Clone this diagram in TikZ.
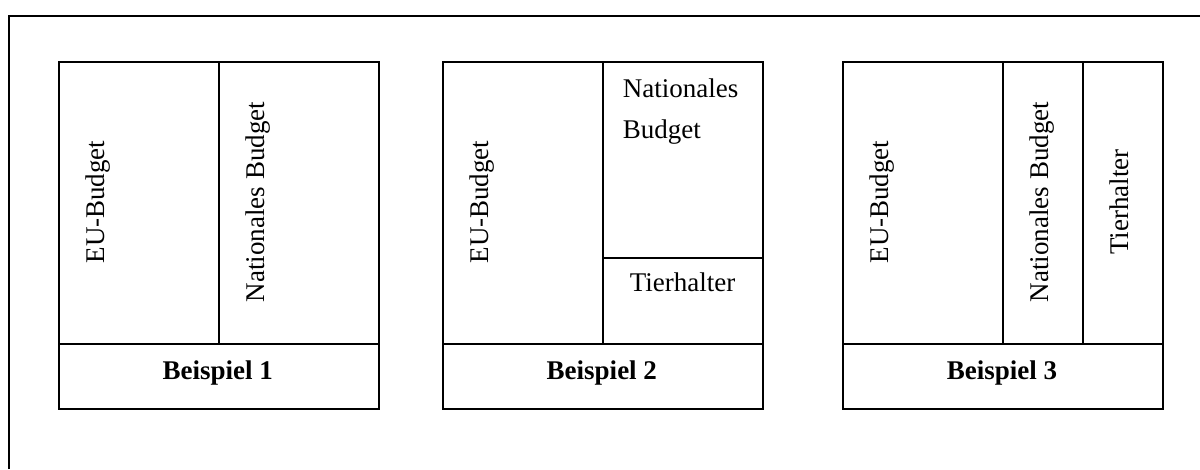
\documentclass[tikz,border=0pt]{standalone}
\usepackage{fontspec}
\setmainfont{Liberation Serif}
\begin{document}
\begin{tikzpicture}[x=1pt,y=-1pt,
  frame/.style={draw=black, line width=2pt},
  cell/.style={draw=black, line width=2pt, anchor=north west, inner sep=0pt},
  lbl/.style={font=\fontsize{27}{41.6}\selectfont, inner sep=0pt},
  vlbl/.style={lbl, rotate=90, anchor=base},
  title/.style={font=\fontsize{27}{32}\selectfont\bfseries, inner sep=0pt, anchor=base}]
\useasboundingbox (0,0) rectangle (1200,469);
\draw[frame] (8.5,469) -- (8.5,15.5) -- (1200,15.5);

% Beispiel 1
\node[cell, minimum width=160.2pt, minimum height=282.6pt] (b1a) at (57.5,60.7) {};
\node[cell, minimum width=160.3pt, minimum height=282.6pt] (b1b) at (217.7,60.7) {};
\node[cell, minimum width=320.5pt, minimum height=64.7pt] (b1c) at (57.5,343.3) {};
\node[vlbl] (t1a) at (104,202) {EU-Budget};
\node[vlbl] (t1b) at (264.2,202) {Nationales Budget};
\node[title] (t1c) at (217.75,379.3) {Beispiel 1};

% Beispiel 2
\node[cell, minimum width=160pt, minimum height=282.6pt] (b2a) at (442,60.7) {};
\node[cell, minimum width=159.7pt, minimum height=196pt] (b2b) at (602,60.7) {};
\node[cell, minimum width=159.7pt, minimum height=86.6pt] (b2c) at (602,256.7) {};
\node[cell, minimum width=319.7pt, minimum height=64.7pt] (b2d) at (442,343.3) {};
\node[vlbl] (t2a) at (488.5,202) {EU-Budget};
\node[lbl, align=left, anchor=north west] (t2b) at (622.7,78.1) {Nationales\\Budget};
\node[lbl, anchor=base] (t2c) at (682.5,291.7) {Tierhalter};
\node[title] (t2d) at (601.85,379.3) {Beispiel 2};

% Beispiel 3
\node[cell, minimum width=160.3pt, minimum height=282.6pt] (b3a) at (842,60.7) {};
\node[cell, minimum width=79.7pt, minimum height=282.6pt] (b3b) at (1002.3,60.7) {};
\node[cell, minimum width=80pt, minimum height=282.6pt] (b3c) at (1082,60.7) {};
\node[cell, minimum width=320pt, minimum height=64.7pt] (b3d) at (842,343.3) {};
\node[vlbl] (t3a) at (888.5,202) {EU-Budget};
\node[vlbl] (t3b) at (1048.8,202) {Nationales Budget};
\node[vlbl] (t3c) at (1128.5,202) {Tierhalter};
\node[title] (t3d) at (1002,379.3) {Beispiel 3};
\end{tikzpicture}
\end{document}
